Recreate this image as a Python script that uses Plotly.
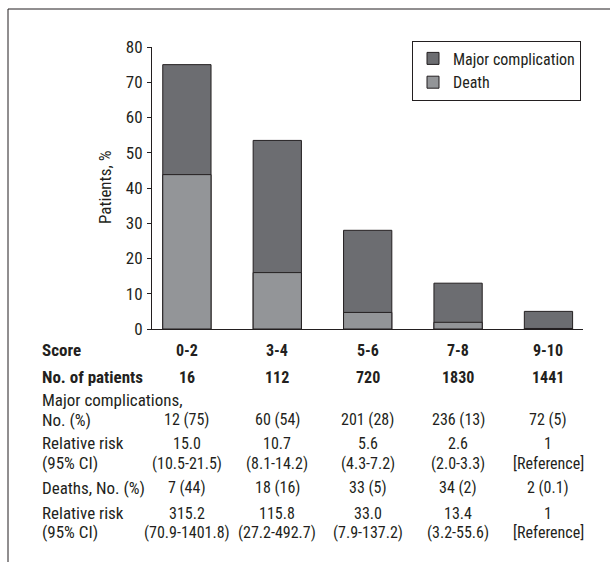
import plotly.graph_objects as go

# ---------------- data ----------------
scores = ["0-2", "3-4", "5-6", "7-8", "9-10"]
major_pct = [75, 53.5, 28, 13, 5]
death_pct = [43.8, 16, 4.7, 1.9, 0.15]
n_patients = ["16", "112", "720", "1830", "1441"]
major_no = ["12 (75)", "60 (54)", "201 (28)", "236 (13)", "72 (5)"]
major_rr = ["15.0", "10.7", "5.6", "2.6", "1"]
major_ci = ["(10.5-21.5)", "(8.1-14.2)", "(4.3-7.2)", "(2.0-3.3)", "[Reference]"]
death_no = ["7 (44)", "18 (16)", "33 (5)", "34 (2)", "2 (0.1)"]
death_rr = ["315.2", "115.8", "33.0", "13.4", "1"]
death_ci = ["(70.9-1401.8)", "(27.2-492.7)", "(7.9-137.2)", "(3.2-55.6)", "[Reference]"]
y_ticks = [0, 10, 20, 30, 40, 50, 60, 70, 80]

# ---------------- layout constants ----------------
W, H = 610, 562
L, R, T, B = 152, 27, 47, 233
PW = W - L - R
PH = H - T - B
FONT = "Liberation Sans Narrow, Arial Narrow, Roboto Condensed, sans-serif"
INK = "#231f20"
FS = 17
FSV = 16


def px_x(px):
    return (px - L) / PW


def px_y(py):
    return (H - B - py) / PH


fig = go.Figure()
fig.add_trace(go.Bar(
    x=scores, y=major_pct, name="Major complication",
    marker=dict(color="#6c6d71", line=dict(color=INK, width=1)),
    width=0.534,
))
fig.add_trace(go.Bar(
    x=scores, y=death_pct, name="Death",
    marker=dict(color="#939598", line=dict(color=INK, width=1)),
    width=0.534,
))

annotations = []


def add_text(x, xref, py, text, anchor="center", size=FS):
    annotations.append(dict(
        x=x, xref=xref, y=px_y(py), yref="paper", text=text,
        showarrow=False, xanchor=anchor, yanchor="middle",
        font=dict(family=FONT, size=size, color=INK),
    ))


LX = px_x(40)
rows_left = [
    (350, "<b>Score</b>"),
    (377.3, "<b>No. of patients</b>"),
    (400.2, "Major complications,"),
    (419.8, "No. (%)"),
    (443.3, "Relative risk"),
    (463.3, "(95% CI)"),
    (487.7, "Deaths, No. (%)"),
    (513.3, "Relative risk"),
    (532.2, "(95% CI)"),
]
for py, t in rows_left:
    add_text(LX, "paper", py, t, anchor="left")

value_rows = [
    (350, ["<b>%s</b>" % s for s in scores]),
    (377.3, ["<b>%s</b>" % s for s in n_patients]),
    (419.8, major_no),
    (443.3, major_rr),
    (463.3, major_ci),
    (487.7, death_no),
    (513.3, death_rr),
    (532.2, death_ci),
]
for py, vals in value_rows:
    for s, v in zip(scores, vals):
        add_text(s, "x", py, v, size=FSV)

# y-axis title
annotations.append(dict(
    x=px_x(105), xref="paper", y=0.5, yref="paper", text="Patients, %",
    textangle=-90, showarrow=False, xanchor="center", yanchor="middle",
    font=dict(family=FONT, size=FS, color=INK),
))

shapes = [
    dict(type="line", xref="paper", yref="paper", x0=px_x(8), x1=px_x(612),
         y0=px_y(9), y1=px_y(9), line=dict(color=INK, width=1)),
    dict(type="line", xref="paper", yref="paper", x0=px_x(8), x1=px_x(8),
         y0=px_y(9), y1=px_y(564), line=dict(color=INK, width=1)),
]

fig.update_layout(
    width=W, height=H,
    margin=dict(l=L, r=R, t=T, b=B),
    paper_bgcolor="white", plot_bgcolor="white",
    barmode="overlay",
    font=dict(family=FONT, size=FS, color=INK),
    showlegend=True,
    legend=dict(
        x=px_x(581), xanchor="right", y=px_y(40.5), yanchor="top",
        bordercolor=INK, borderwidth=1, bgcolor="white",
        font=dict(family=FONT, size=FS - 1, color=INK),
        traceorder="normal",
    ),
    xaxis=dict(
        range=[-0.386, 4.382], showticklabels=False, ticks="",
        showline=True, linecolor=INK, linewidth=1, showgrid=False, zeroline=False,
        fixedrange=True,
    ),
    yaxis=dict(
        range=[0, 80], tickvals=y_ticks, ticks="outside", ticklen=4,
        tickcolor=INK, showline=True, linecolor=INK, linewidth=1,
        showgrid=False, zeroline=False, ticklabelstandoff=1,
        tickfont=dict(family=FONT, size=FS, color=INK),
    ),
    annotations=annotations,
    shapes=shapes,
)

fig.write_html(
    "out.html",
    config={"displayModeBar": False},
    post_script="document.body.style.margin='0';document.body.style.overflow='hidden';",
)
